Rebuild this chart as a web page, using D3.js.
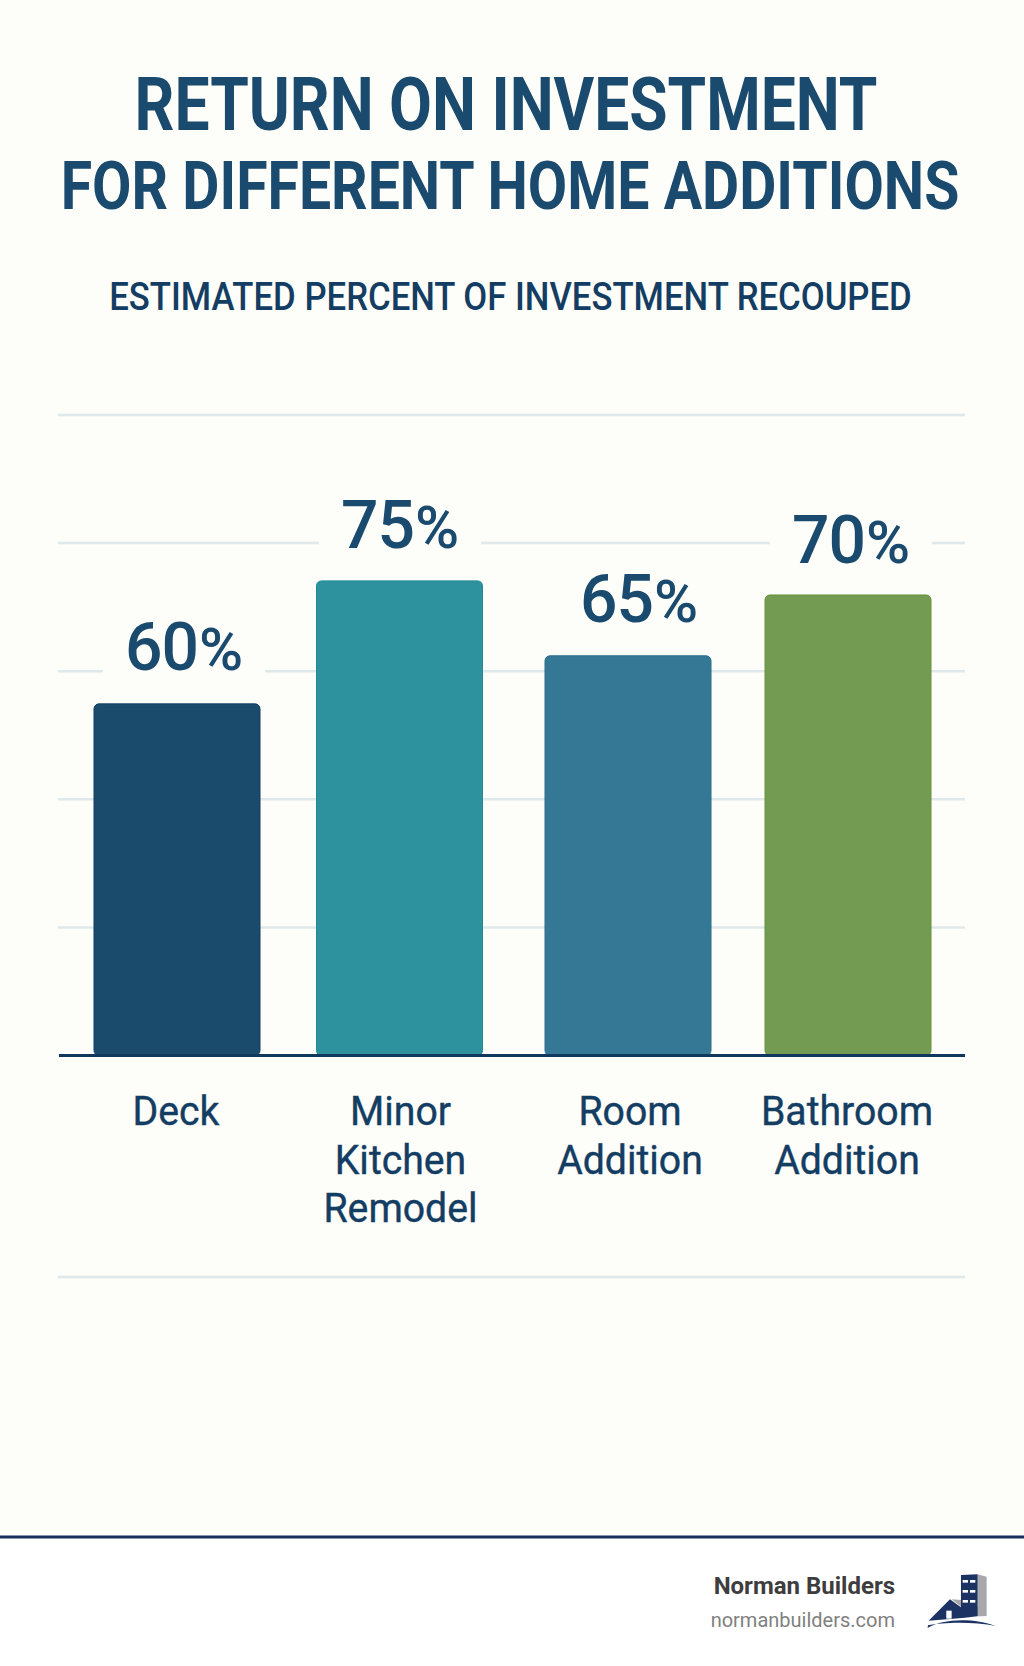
<!DOCTYPE html>
<html>
<head>
<meta charset="utf-8">
<script src="https://cdn.jsdelivr.net/npm/d3@7"></script>
<style>
html,body{margin:0;padding:0;background:#fff}
svg{display:block}
text{font-family:Roboto,sans-serif}
</style>
</head>
<body>
<div id="chart"></div>
<script>
// Data
const categories = ["Deck", "Minor Kitchen Remodel", "Room Addition", "Bathroom Addition"];
const categoryLines = [["Deck"], ["Minor", "Kitchen", "Remodel"], ["Room", "Addition"], ["Bathroom", "Addition"]];
const valueLabels = [60, 75, 65, 70];          // what the labels say
const barLevels = [54.9, 74.1, 62.4, 71.9];    // where the bars reach on the unlabelled 0-100 grid
const gridLevels = [20, 40, 60, 80, 100, -34.6];
const barColors = ["#1a4a6c", "#2d929e", "#347896", "#739b52"];
const barEdges = ["#123f63", "#1f8a96", "#2a6d8c", "#66913f"];
const titleLines = ["RETURN ON INVESTMENT", "FOR DIFFERENT HOME ADDITIONS"];
const subtitle = "ESTIMATED PERCENT OF INVESTMENT RECOUPED";

const W = 1024, H = 1666;
const navy = "#1a4a6e", labelNavy = "#143d63", bg = "#fdfdf9";

const svg = d3.select("#chart").append("svg").attr("width", W).attr("height", H);
svg.append("rect").attr("width", W).attr("height", 1537).attr("fill", bg);
svg.append("rect").attr("y", 1537).attr("width", W).attr("height", H - 1537).attr("fill", "#fff");

// Scales
const y = d3.scaleLinear().domain([0, 100]).range([1055.5, 415]);
const x = d3.scaleOrdinal().domain(categories).range([177, 399.5, 628, 848]);
const xCat = d3.scaleOrdinal().domain(categories).range([176, 400.5, 630, 847]);
const xVal = d3.scaleOrdinal().domain(categories).range([184, 400, 639, 851]);
const yVal = d3.scaleOrdinal().domain(categories).range([670, 548, 622, 563]);
const barW = 166;

// Centred text squeezed horizontally to a given width, through a transform
function fitted(str, cx, by, size, weight, fill, width) {
  const t = svg.append("text").text(str).attr("text-anchor", "middle")
    .attr("font-size", size).attr("font-weight", weight).attr("fill", fill);
  const sx = width / t.node().getComputedTextLength();
  t.attr("transform", `translate(${cx},${by}) scale(${sx},1)`);
  return t;
}

// Titles
fitted(titleLines[0], 506, 130, 74, 700, navy, 743);
fitted(titleLines[1], 510, 209, 67, 700, navy, 899);
fitted(subtitle, 510.5, 310, 38, 500, labelNavy, 803);

// Grid
svg.append("g").selectAll("line").data(gridLevels).join("line")
  .attr("x1", 58).attr("x2", 965)
  .attr("y1", d => y(d)).attr("y2", d => y(d))
  .attr("stroke", "#dfe8ea").attr("stroke-width", 2.5);

// Value labels (with a background patch that interrupts the grid)
const labels = svg.append("g").selectAll("g").data(categories).join("g");
const labelTexts = labels.append("text")
  .attr("x", d => xVal(d)).attr("y", d => yVal(d)).attr("text-anchor", "middle")
  .attr("fill", navy).attr("font-weight", 500);
labelTexts.append("tspan").attr("font-size", 66).attr("letter-spacing", -1).text((d, i) => valueLabels[i]);
labelTexts.append("tspan").attr("font-size", 60).attr("dx", 1).text("%");
labelTexts.each(function () {
  const b = this.getBBox();
  d3.select(this.parentNode).insert("rect", "text")
    .attr("x", b.x - 22).attr("width", b.width + 44)
    .attr("y", b.y + 8).attr("height", b.height - 16)
    .attr("fill", bg);
});

// Bars
svg.append("g").selectAll("rect").data(categories).join("rect")
  .attr("x", d => x(d) - barW / 2).attr("width", barW)
  .attr("y", (d, i) => y(barLevels[i])).attr("height", (d, i) => y(0) - y(barLevels[i]))
  .attr("rx", 5)
  .attr("fill", (d, i) => barColors[i])
  .attr("stroke", (d, i) => barEdges[i]).attr("stroke-width", 1);

// Baseline
svg.append("line").attr("x1", 59).attr("x2", 965).attr("y1", y(0)).attr("y2", y(0))
  .attr("stroke", "#10375c").attr("stroke-width", 3);

// Category labels
const catFont = 40, catSqueeze = 0.98;
categories.forEach((d, i) => {
  categoryLines[i].forEach((line, k) => {
    const s = svg.append("text").attr("text-anchor", "middle").attr("font-size", catFont)
      .attr("font-weight", 400).attr("fill", labelNavy).attr("stroke", labelNavy).attr("stroke-width", 0.4)
      .attr("transform", `translate(${xCat(d)},${1125 + k * 48.5}) scale(${catSqueeze},1)`).text(line);
  });
});

// Footer
svg.append("rect").attr("y", 1535.5).attr("width", W).attr("height", 3).attr("fill", "#1b2f5e");
svg.append("text").text("Norman Builders").attr("x", 895).attr("y", 1594).attr("text-anchor", "end")
  .attr("font-size", 24).attr("font-weight", 700).attr("fill", "#3d3d3d");
svg.append("text").text("normanbuilders.com").attr("x", 895).attr("y", 1627).attr("text-anchor", "end")
  .attr("font-size", 20).attr("font-weight", 400).attr("fill", "#808080");

// Logo
const logo = svg.append("g").attr("transform", "translate(640,1520) scale(0.3333)");
logo.append("path").attr("d", "M1013 163 L1040 170 L1040 288 L990 290 L965 292 L965 240 L935 238 L965 262 L1013 262 Z").attr("fill", "#a8a8ac");
logo.append("path").attr("d", "M963 165 L1013 163 L1013 288 L988 292 L966 294 L866 302 L930 238 L963 262 Z").attr("fill", "#1c3263");
logo.append("rect").attr("x", 919).attr("y", 272).attr("width", 16).attr("height", 24).attr("fill", "#fff");
[180, 210, 240].forEach(wy => [968, 990].forEach(wx => {
  logo.append("rect").attr("x", wx).attr("y", wy).attr("width", 16).attr("height", 8).attr("fill", "#fff");
}));
logo.append("path").attr("d", "M863 324 C 905 296, 1000 292, 1068 318 C 1000 304, 910 306, 864 316 Z").attr("fill", "#1c3263");
</script>
</body>
</html>
